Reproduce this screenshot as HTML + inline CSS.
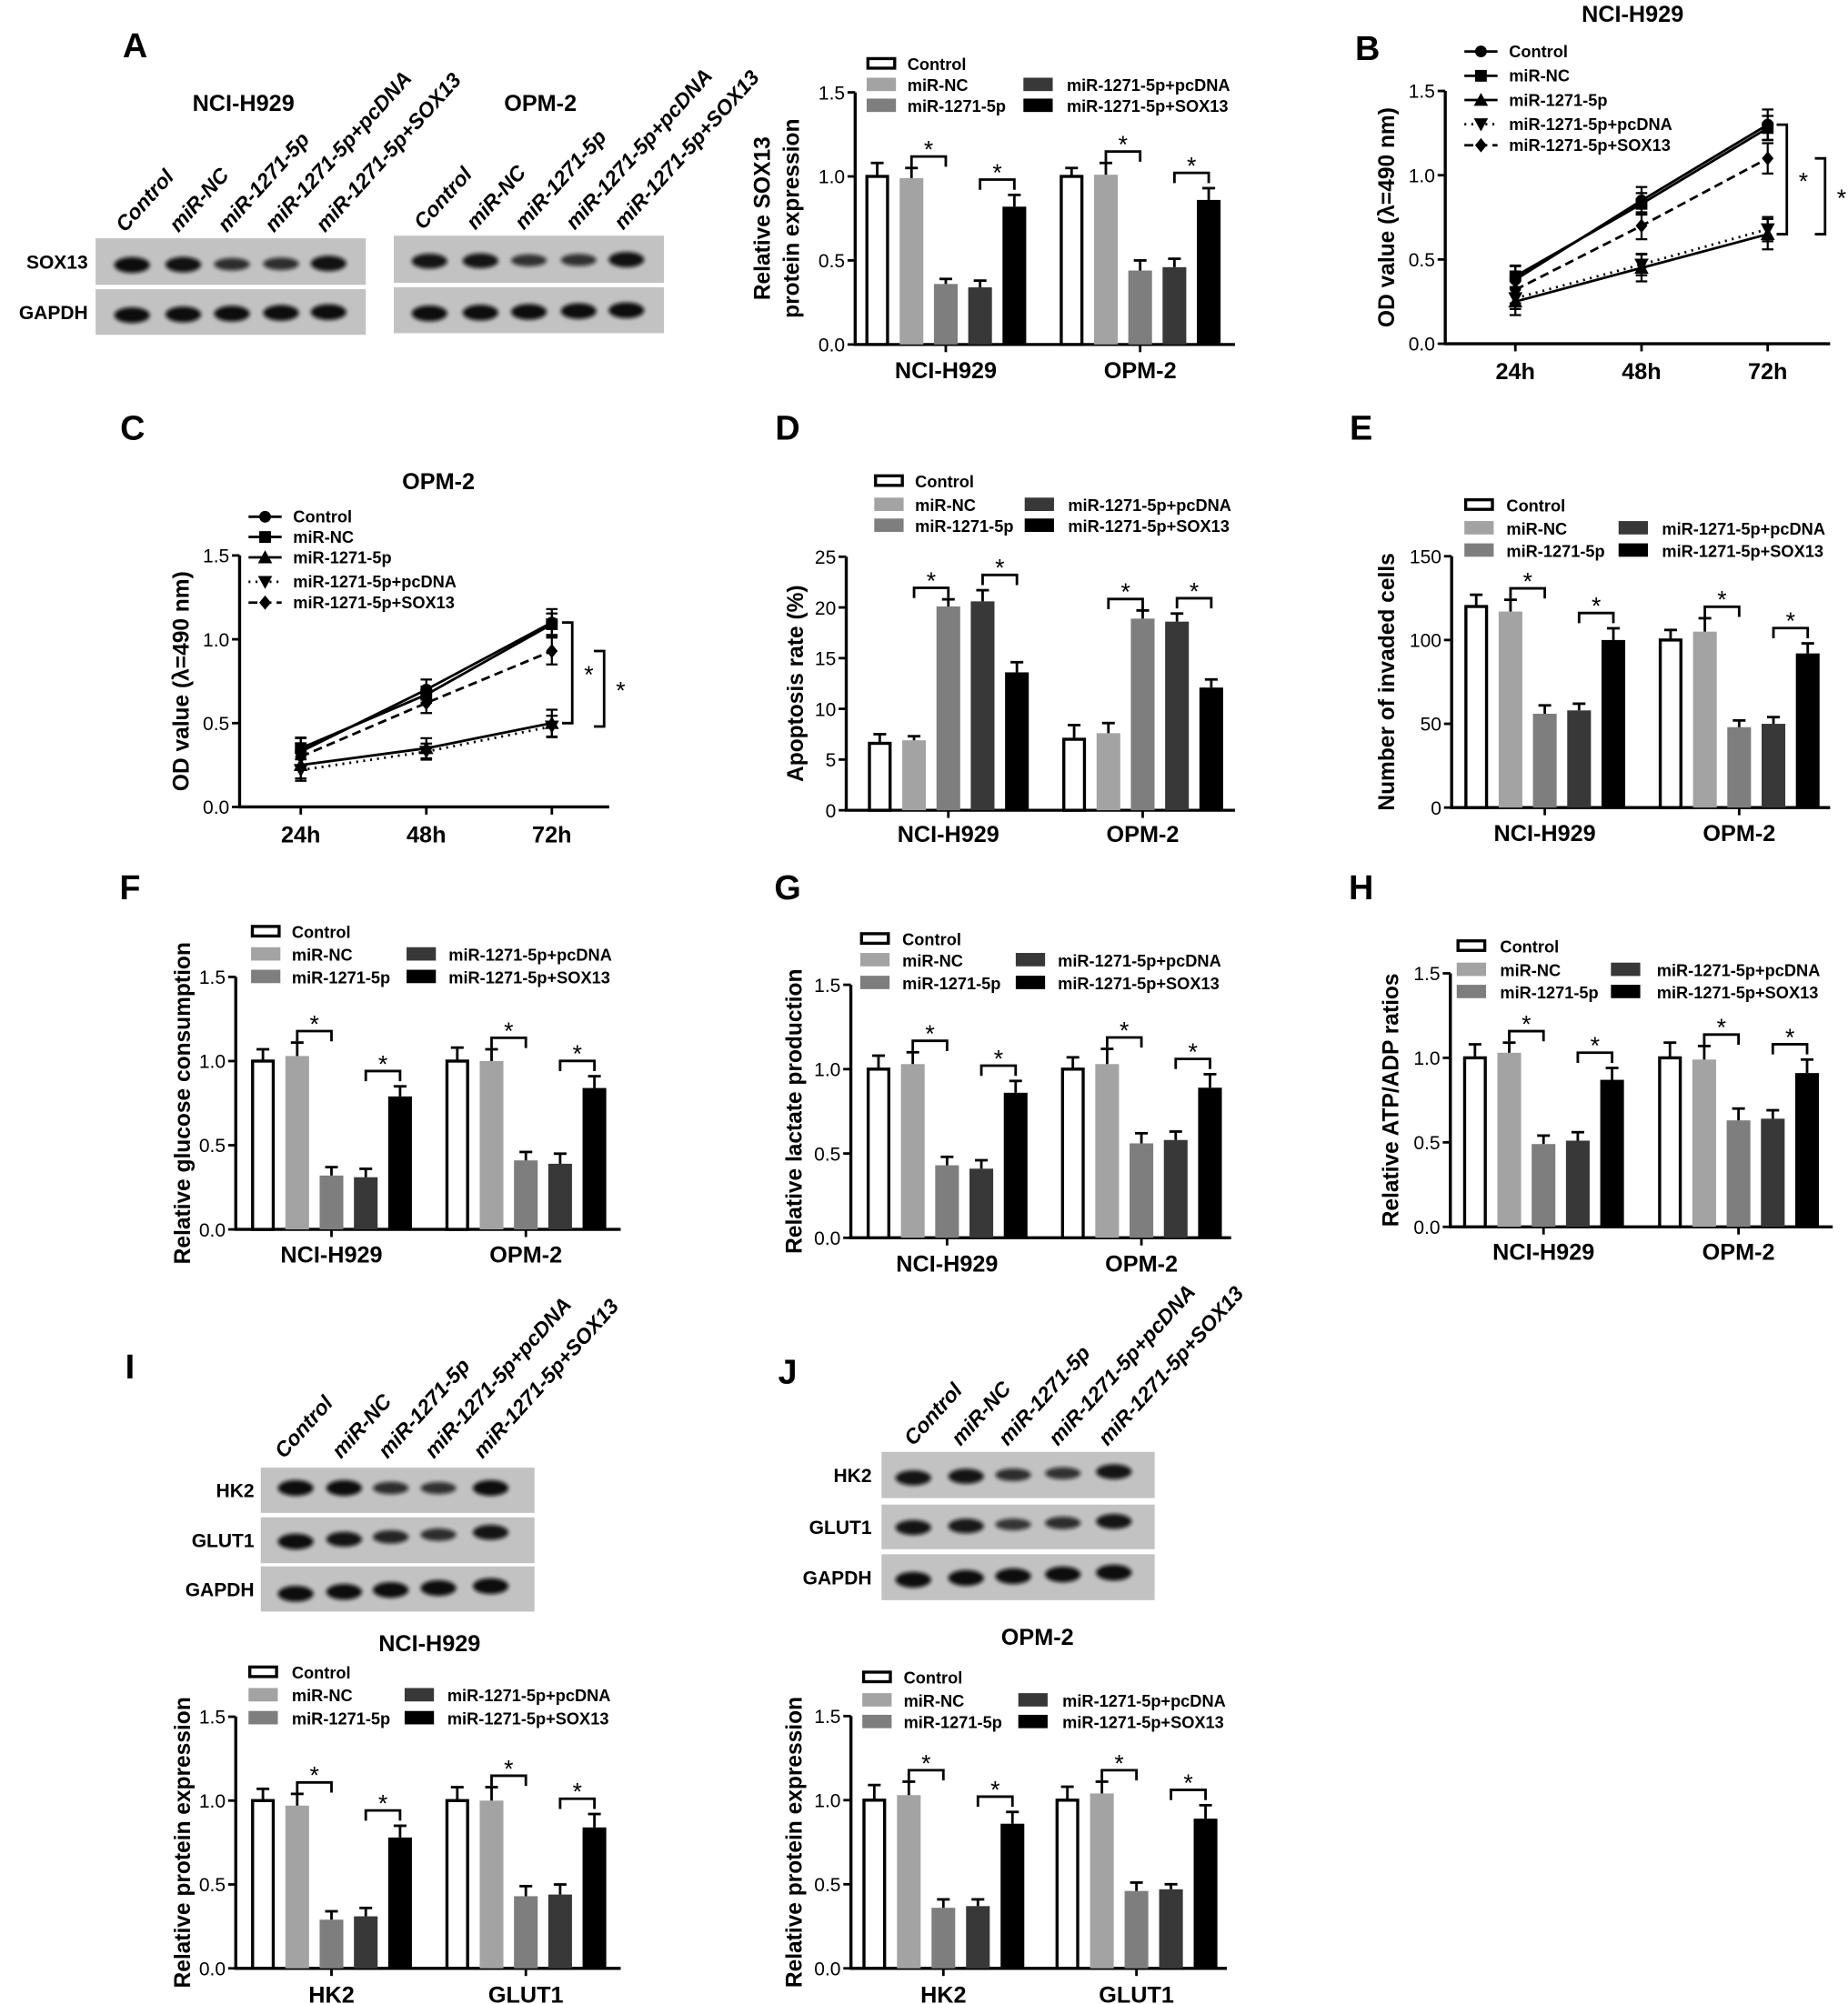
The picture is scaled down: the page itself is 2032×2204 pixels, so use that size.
<!DOCTYPE html>
<html><head><meta charset="utf-8">
<style>
html,body{margin:0;padding:0;background:#fff;}
svg{display:block;}
text{font-family:"Liberation Sans",Arial,sans-serif;fill:#000;}
.tick{font-size:15px;}
.leg{font-size:13px;font-weight:bold;}
.grp{font-size:18px;font-weight:bold;}
.ylab{font-size:17.5px;font-weight:bold;}
.let{font-size:27px;font-weight:bold;}
.lane{font-size:16.5px;font-weight:bold;font-style:italic;}
.blab{font-size:15px;font-weight:bold;}
.star{font-size:19px;}
</style></head>
<body>
<svg id="fig" width="2032" height="2204" viewBox="0 0 1450 1573" preserveAspectRatio="none" xmlns="http://www.w3.org/2000/svg">
<defs><filter id="blur" x="-50%" y="-50%" width="200%" height="200%"><feGaussianBlur stdDeviation="1.6"/></filter></defs>
</svg>
<script>
// ---------- data ----------
const seriesNames = ["Control","miR-NC","miR-1271-5p","miR-1271-5p+pcDNA","miR-1271-5p+SOX13"];
const cellGroups = ["NCI-H929","OPM-2"];
const proteinGroups = ["HK2","GLUT1"];
const timeLabels = ["24h","48h","72h"];
const ticks15 = [0,0.5,1.0,1.5];
const tickLabels15 = ["0.0","0.5","1.0","1.5"];
const ticksD = [0,5,10,15,20,25];
const tickLabelsD = ["0","5","10","15","20","25"];
const ticksE = [0,50,100,150];
const tickLabelsE = ["0","50","100","150"];

const aNci = [1.0,0.99,0.36,0.34,0.82]; const aNciErr = [0.08,0.06,0.03,0.04,0.07];
const aOpm = [1.0,1.01,0.44,0.46,0.86]; const aOpmErr = [0.05,0.07,0.06,0.05,0.07];
const dNci = [6.6,6.9,20.1,20.6,13.6]; const dNciErr = [0.9,0.4,0.7,1.1,1.0];
const dOpm = [7.0,7.6,18.9,18.6,12.1]; const dOpmErr = [1.4,1.0,0.8,0.8,0.8];
const eNci = [120,117,56,58,100]; const eNciErr = [7,7,5,4,7];
const eOpm = [100,105,48,50,92]; const eOpmErr = [6,8,4,4,6];
const fNci = [1.0,1.03,0.32,0.31,0.79]; const fNciErr = [0.07,0.08,0.05,0.05,0.06];
const fOpm = [1.0,1.0,0.41,0.39,0.84]; const fOpmErr = [0.08,0.07,0.05,0.06,0.07];
const gNci = [1.0,1.03,0.43,0.41,0.86]; const gNciErr = [0.08,0.07,0.05,0.05,0.07];
const gOpm = [1.0,1.03,0.56,0.58,0.89]; const gOpmErr = [0.07,0.09,0.06,0.05,0.08];
const hNci = [1.0,1.03,0.49,0.51,0.87]; const hNciErr = [0.08,0.06,0.05,0.05,0.07];
const hOpm = [1.0,0.99,0.63,0.64,0.91]; const hOpmErr = [0.09,0.08,0.07,0.05,0.08];
const iHk2 = [1.0,0.97,0.29,0.31,0.78]; const iHk2Err = [0.07,0.07,0.05,0.05,0.07];
const iGlut = [1.0,1.0,0.43,0.44,0.84]; const iGlutErr = [0.08,0.08,0.06,0.06,0.08];
const jHk2 = [1.0,1.03,0.36,0.37,0.86]; const jHk2Err = [0.09,0.08,0.05,0.04,0.07];
const jGlut = [1.0,1.04,0.46,0.47,0.89]; const jGlutErr = [0.08,0.07,0.05,0.03,0.08];

// line charts (OD values)
const bControl = [0.38,0.85,1.30]; const bNC = [0.40,0.83,1.28]; const bMiR = [0.25,0.45,0.65]; const bPc = [0.27,0.47,0.68]; const bSox = [0.32,0.70,1.10];
const bErr = [0.08,0.08,0.09];
const cControl = [0.33,0.70,1.10]; const cNC = [0.35,0.67,1.09]; const cMiR = [0.25,0.35,0.50]; const cPc = [0.22,0.33,0.48]; const cSox = [0.30,0.62,0.93];
const cErr = [0.08,0.06,0.08];

// blot band intensities (0-1)
const aSox13Nci = [1.0,0.95,0.6,0.6,0.95]; const aGapdhNci = [1,1,1,1,1];
const aSox13Opm = [0.9,0.9,0.55,0.55,0.95]; const aGapdhOpm = [1,1,1,1,1];
const iHk2Band = [1.0,1.0,0.6,0.55,1.0]; const iGlutBand = [1.0,0.9,0.7,0.6,0.9]; const iGapdhBand = [1,1,1,1,1];
const jHk2Band = [0.9,0.9,0.6,0.55,0.9]; const jGlutBand = [0.9,0.85,0.5,0.6,0.9]; const jGapdhBand = [1,1,1,1,1];

const colors = ["#fff","#a3a3a3","#7e7e7e","#383838","#000"];
const NS="http://www.w3.org/2000/svg";
const svg=document.getElementById('fig');
function el(tag,attrs,parent){const e=document.createElementNS(NS,tag);for(const k in attrs)e.setAttribute(k,attrs[k]);(parent||svg).appendChild(e);return e;}
function txt(s,x,y,cls,anchor,parent,extra){const t=el('text',Object.assign({x:x,y:y,class:cls,'text-anchor':anchor||'start'},extra||{}),parent);t.textContent=s;return t;}

function panelLetter(L,x,y){const t=txt(L,x,y,'let','middle');

}

function yAxis(g,c,ticks,labels){
  const yOf=v=>c.y0-(v/c.max)*(c.y0-c.yTop);
  el('line',{x1:c.ax,y1:c.y0+1,x2:c.ax,y2:c.yTop,stroke:'#000','stroke-width':2.4},g);
  ticks.forEach((t,i)=>{const y=yOf(t);
    el('line',{x1:c.ax-6,y1:y,x2:c.ax,y2:y,stroke:'#000','stroke-width':2},g);
    const tl=txt(labels[i],c.ax-8,y+5.5,'tick','end',g);
    
    });
  const yl=txt(c.ylabel,0,0,'ylab','middle',g,{transform:`translate(${c.ylx},${(c.y0+c.yTop)/2}) rotate(-90)`});
  
  
  if(c.ylabel2){const y2=txt(c.ylabel2,0,0,'ylab','middle',g,{transform:`translate(${c.ylx+23},${(c.y0+c.yTop)/2}) rotate(-90)`});
    
    }
  return yOf;
}

function legendBars(g,L){
  const pos=[[L.x1,L.tx1,L.ys[0]],[L.x1,L.tx1,L.ys[1]],[L.x1,L.tx1,L.ys[2]],[L.x2,L.tx2,L.ys[1]],[L.x2,L.tx2,L.ys[2]]];
  seriesNames.forEach((n,i)=>{const p=pos[i];
    const eg=el('g',{},g);
    
    
    if(i===0)el('rect',{x:p[0]+1,y:p[2]-4.5,width:21,height:7.5,fill:'#fff',stroke:'#000','stroke-width':2.4},eg);
    else el('rect',{x:p[0],y:p[2]-6,width:23,height:10.5,fill:colors[i]},eg);
    txt(n,p[1],p[2]+4.5,'leg','start',eg);});
}

function barChart(name,c,g1,e1,g2,e2,groups,ticks,labels){
  const g=el('g',{});
  
  
  const yOf=yAxis(g,c,ticks,labels);
  el('line',{x1:c.ax-1,y1:c.y0,x2:c.xEnd,y2:c.y0,stroke:'#000','stroke-width':2.4},g);
  const step=c.step||26.9, bw=c.bw||18.6;
  [[g1,e1],[g2,e2]].forEach((d,gi)=>{
    const off=gi===0?c.off1:c.off1+c.gap;
    const bx=i=>c.ax+off+i*step;
    const gc=bx(2)+bw/2;
    el('line',{x1:gc,y1:c.y0,x2:gc,y2:c.y0+6,stroke:'#000','stroke-width':2},g);
    const gl=txt(groups[gi],gc,c.glY,'grp','middle',g);
    
    
    const vals=d[0], errs=d[1];
    vals.forEach((v,i)=>{
      const x=bx(i), top=yOf(v), cx=x+bw/2;
      const r=el('rect', i===0?{x:x+1.2,y:top,width:bw-2.4,height:c.y0-top,fill:'#fff',stroke:'#000','stroke-width':2.4}:{x:x,y:top,width:bw,height:c.y0-top,fill:colors[i]},g);
      
      
      const et=yOf(v+errs[i]);
      el('line',{x1:cx,y1:top,x2:cx,y2:et,stroke:'#000','stroke-width':2},g);
      el('line',{x1:cx-5,y1:et,x2:cx+5,y2:et,stroke:'#000','stroke-width':2},g);
    });
    [[1,2],[3,4]].forEach(pr=>{
      const xa=bx(pr[0])+bw/2, xb=bx(pr[1])+bw/2;
      const top=Math.min(yOf(vals[pr[0]]+errs[pr[0]]),yOf(vals[pr[1]]+errs[pr[1]]));
      const by=top-(pr[0]===1?9:12);
      el('polyline',{points:`${xa},${by+8} ${xa},${by} ${xb},${by} ${xb},${by+8}`,fill:'none',stroke:'#000','stroke-width':2},g);
      const s=txt('*',(xa+xb)/2,by+1,'star','middle',g);
      
      
    });
  });
  legendBars(g,c.leg);
}

function marker(g,type,x,y){
  const r=4.6;
  if(type==='circle')el('circle',{cx:x,cy:y,r:r},g);
  else if(type==='square')el('rect',{x:x-r,y:y-r,width:2*r,height:2*r},g);
  else if(type==='tri')el('polygon',{points:`${x},${y-r-1} ${x-r-1},${y+r} ${x+r+1},${y+r}`},g);
  else if(type==='itri')el('polygon',{points:`${x},${y+r+1} ${x-r-1},${y-r} ${x+r+1},${y-r}`},g);
  else el('polygon',{points:`${x},${y-r-1} ${x-r},${y} ${x},${y+r+1} ${x+r},${y}`},g);
}
const lineStyles=[{d:'',m:'circle'},{d:'',m:'square'},{d:'',m:'tri'},{d:'1.5,4',m:'itri'},{d:'7,4',m:'diamond'}];

function lineChart(name,c,series,err){
  const g=el('g',{});
  
  
  const yOf=yAxis(g,c,ticks15,tickLabels15);
  el('line',{x1:c.ax-1,y1:c.y0,x2:c.xEnd,y2:c.y0,stroke:'#000','stroke-width':2.4},g);
  const xOf=i=>c.x0+i*c.dx;
  timeLabels.forEach((t,i)=>{el('line',{x1:xOf(i),y1:c.y0,x2:xOf(i),y2:c.y0+6,stroke:'#000','stroke-width':2},g);
    const tl=txt(t,xOf(i),c.y0+28,'grp','middle',g);
    
    });
  const tt=txt(c.title,c.titleX,c.titleY,'grp','middle',g);
  
  
  series.forEach((s,si)=>{
    const st=lineStyles[si];
    const sg=el('g',{},g);
    
    
    el('polyline',{points:s.map((v,i)=>xOf(i)+','+yOf(v)).join(' '),fill:'none',stroke:'#000','stroke-width':2,'stroke-dasharray':st.d},sg);
    s.forEach((v,i)=>{const x=xOf(i),yt=yOf(v+err[i]*(si%2?0.8:1)),yb=yOf(v-err[i]*(si%2?0.8:1));
      el('line',{x1:x,y1:yt,x2:x,y2:yb,stroke:'#000','stroke-width':1.6},sg);
      el('line',{x1:x-4.5,y1:yt,x2:x+4.5,y2:yt,stroke:'#000','stroke-width':1.6},sg);
      el('line',{x1:x-4.5,y1:yb,x2:x+4.5,y2:yb,stroke:'#000','stroke-width':1.6},sg);
      marker(sg,st.m,x,yOf(v));});
    const ly=c.legY[si];
    const lg=el('g',{},g);
    
    
    el('line',{x1:c.legX-13,y1:ly,x2:c.legX+13,y2:ly,stroke:'#000','stroke-width':2,'stroke-dasharray':st.d},lg);
    marker(lg,st.m,c.legX,ly);
    txt(seriesNames[si],c.legTX,ly+4.5,'leg','start',lg);
  });
  const last=series.map(s=>s[2]);
  c.brk.forEach(b=>{const ya=yOf(last[b.a]),yb=yOf(last[b.b]);
    el('polyline',{points:`${b.x-8},${ya} ${b.x},${ya} ${b.x},${yb} ${b.x-8},${yb}`,fill:'none',stroke:'#000','stroke-width':2},g);
    const s=txt('*',b.x+13,(ya+yb)/2+8,'star','middle',g);
    
    });
}

function blot(name,x,w,rows,lanes,labels,labelX,anchor){
  const g=el('g',{});
  
  
  rows.forEach((r,ri)=>{
    el('rect',{x:x,y:r.y,width:w,height:r.h,fill:'#c2c2c2'},g);
    const l=txt(labels[ri],labelX,r.y+r.h/2+5.5,'blab',anchor||'end',g);
    
    
    r.vals.forEach((v,i)=>{
      const b=el('ellipse',{cx:lanes[i],cy:r.by-(r.tilt||0)*i,rx:14,ry:3+3.2*v,fill:'#0c0c0c',opacity:0.55+0.45*v,filter:'url(#blur)'},g);
      
      
    });
  });
}
function laneLabels(starts,y,ang){
  seriesNames.forEach((n,i)=>{const t=txt(n,0,0,'lane','start',svg,{transform:`translate(${starts[i]},${y}) rotate(${ang})`});
    
    });
}

// ---------- Panel A ----------
panelLetter('A',106,45);
{const t=txt('NCI-H929',191,87,'grp','middle');}
{const t=txt('OPM-2',424,87,'grp','middle');}
laneLabels([98,140,178,215,255],183,-48);
laneLabels([332,373,411,451,489],181,-48);
blot('blot-a-nci',75,212,[{y:187,h:36.6,by:208,vals:aSox13Nci,tilt:0.3},{y:227,h:35.8,by:247.4,vals:aGapdhNci,tilt:0.6}],[103.6,143.8,182,220.5,257.8],['SOX13','GAPDH'],69);
blot('blot-a-opm',309,212,[{y:185,h:37,by:205,vals:aSox13Opm,tilt:0.3},{y:225.5,h:36,by:246,vals:aGapdhOpm,tilt:0.6}],[337,377,415,454,491.5],['',''],300);
barChart('chart-a',{ax:671,y0:270.4,yTop:72.5,max:1.5,xEnd:969,off1:8,gap:152.5,glY:297,ylabel:'Relative SOX13',ylabel2:'protein expression',ylx:604,
  leg:{x1:680,tx1:712,x2:803,tx2:837,ys:[50.5,67,83.4]}},aNci,aNciErr,aOpm,aOpmErr,cellGroups,ticks15,tickLabels15);

// ---------- Panel B ----------
panelLetter('B',1073,47);
lineChart('chart-b',{ax:1134,y0:269.8,yTop:71.4,max:1.5,xEnd:1436,x0:1189,dx:99,title:'NCI-H929',titleX:1281,titleY:17,ylabel:'OD value (λ=490 nm)',ylx:1094,
  legX:1162,legTX:1184,legY:[40.4,59.5,78.5,97.5,114],brk:[{x:1402,a:0,b:2},{x:1432,a:4,b:2}]},[bControl,bNC,bMiR,bPc,bSox],bErr);

// ---------- Panel C ----------
panelLetter('C',104,345);
lineChart('chart-c',{ax:188,y0:633.4,yTop:436,max:1.5,xEnd:478,x0:236,dx:98.5,title:'OPM-2',titleX:344,titleY:384,ylabel:'OD value (λ=490 nm)',ylx:148,
  legX:208,legTX:230,legY:[405.6,421.5,437.5,456.7,473],brk:[{x:449,a:0,b:2},{x:474,a:4,b:3}]},[cControl,cNC,cMiR,cPc,cSox],cErr);

// ---------- Panel D ----------
panelLetter('D',618,345);
barChart('chart-d',{ax:664,y0:636,yTop:437,max:25,xEnd:969,off1:17,gap:152.5,glY:661,ylabel:'Apoptosis rate (%)',ylx:630,
  leg:{x1:686,tx1:718,x2:804,tx2:838,ys:[378,396.6,413]}},dNci,dNciErr,dOpm,dOpmErr,cellGroups,ticksD,tickLabelsD);

// ---------- Panel E ----------
panelLetter('E',1068,345);
barChart('chart-e',{ax:1139,y0:633.9,yTop:436.6,max:150,xEnd:1436,off1:10,gap:152.5,glY:660,ylabel:'Number of invaded cells',ylx:1094,
  leg:{x1:1149,tx1:1182,x2:1270,tx2:1304,ys:[396.8,415,432.5]}},eNci,eNciErr,eOpm,eOpmErr,cellGroups,ticksE,tickLabelsE);

// ---------- Panel F ----------
panelLetter('F',102,706);
barChart('chart-f',{ax:185,y0:965,yTop:766.8,max:1.5,xEnd:487,off1:12,gap:152.5,glY:991,ylabel:'Relative glucose consumption',ylx:149,
  leg:{x1:197,tx1:229,x2:319,tx2:352,ys:[731.7,749.5,767.2]}},fNci,fNciErr,fOpm,fOpmErr,cellGroups,ticks15,tickLabels15);

// ---------- Panel G ----------
panelLetter('G',618,706);
barChart('chart-g',{ax:667.6,y0:971.6,yTop:773,max:1.5,xEnd:966,off1:12.4,gap:152.5,glY:998,ylabel:'Relative lactate production',ylx:629,
  leg:{x1:675,tx1:708,x2:797,tx2:830,ys:[737.4,754,771.9]}},gNci,gNciErr,gOpm,gOpmErr,cellGroups,ticks15,tickLabels15);

// ---------- Panel H ----------
panelLetter('H',1068,706);
barChart('chart-h',{ax:1138,y0:963,yTop:764,max:1.5,xEnd:1438,off1:10,gap:153,glY:989,ylabel:'Relative ATP/ADP ratios',ylx:1097,
  leg:{x1:1143,tx1:1177,x2:1264,tx2:1300,ys:[743,761.6,779]}},hNci,hNciErr,hOpm,hOpmErr,cellGroups,ticks15,tickLabels15);

// ---------- Panel I ----------
panelLetter('I',102,1082);
laneLabels([222.8,267.6,304,340.4,378.6],1145.5,-48);
blot('blot-i',204.6,214.8,[{y:1152,h:35.5,by:1168,vals:iHk2Band,tilt:0},{y:1191,h:36,by:1210,vals:iGlutBand,tilt:1.8},{y:1229.5,h:35.5,by:1251,vals:iGapdhBand,tilt:1.5}],[232,270,306.6,344,385],['HK2','GLUT1','GAPDH'],199.5);
{const t=txt('NCI-H929',337,1296,'grp','middle');}
barChart('chart-i',{ax:185,y0:1545,yTop:1347.5,max:1.5,xEnd:487,off1:12,gap:152.5,glY:1572,ylabel:'Relative protein expression',ylx:149,
  leg:{x1:195,tx1:229,x2:317.5,tx2:351,ys:[1313,1331,1349]}},iHk2,iHk2Err,iGlut,iGlutErr,proteinGroups,ticks15,tickLabels15);

// ---------- Panel J ----------
panelLetter('J',618,1086);
laneLabels([716.6,753.6,790.6,830,869],1135.5,-48);
blot('blot-j',691.7,214.3,[{y:1139.6,h:36.3,by:1160,vals:jHk2Band,tilt:1.2},{y:1181,h:35,by:1199,vals:jGlutBand,tilt:1.2},{y:1220,h:36,by:1240,vals:jGapdhBand,tilt:1.4}],[716.6,758,795,834,874],['HK2','GLUT1','GAPDH'],684);
{const t=txt('OPM-2',814,1291,'grp','middle');}
barChart('chart-j',{ax:667.7,y0:1545,yTop:1347,max:1.5,xEnd:962.6,off1:9,gap:151.5,step:27.1,glY:1572,ylabel:'Relative protein expression',ylx:629,
  leg:{x1:676.6,tx1:709,x2:799,tx2:833.6,ys:[1317,1335,1352]}},jHk2,jHk2Err,jGlut,jGlutErr,proteinGroups,ticks15,tickLabels15);
</script>
</body></html>
